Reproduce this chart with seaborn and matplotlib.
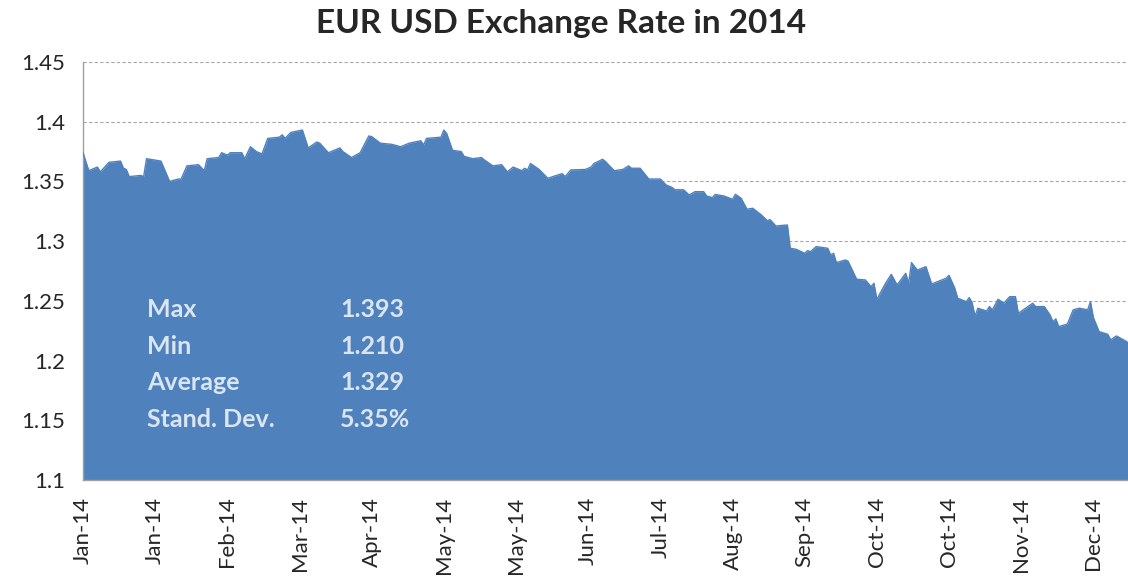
import matplotlib
matplotlib.use("Agg")
import matplotlib.pyplot as plt
import matplotlib.ticker as mticker
import matplotlib.dates as mdates
import seaborn as sns
import pandas as pd

# EUR/USD daily closes (month-day in 2014)
dates = [
    "01-01", "01-03", "01-06", "01-07", "01-10", "01-14", "01-15", "01-16", "01-17", "01-21",
    "01-22", "01-23", "01-28", "01-31", "02-03", "02-04", "02-06", "02-10", "02-12", "02-13",
    "02-17", "02-18", "02-20", "02-21", "02-25", "02-26", "02-28", "03-02", "03-04", "03-06",
    "03-10", "03-11", "03-12", "03-14", "03-18", "03-20", "03-23", "03-24", "03-27", "03-31",
    "04-01", "04-04", "04-07", "04-10", "04-11", "04-14", "04-18", "04-21", "04-24", "04-28",
    "04-29", "04-30", "05-05", "05-06", "05-07", "05-09", "05-12", "05-13", "05-16", "05-19",
    "05-20", "05-23", "05-26", "05-28", "05-30", "06-02", "06-03", "06-04", "06-05", "06-08",
    "06-10", "06-11", "06-14", "06-16", "06-17", "06-19", "06-24", "06-26", "06-27", "06-30",
    "07-01", "07-02", "07-04", "07-07", "07-09", "07-10", "07-13", "07-16", "07-20", "07-22",
    "07-24", "07-25", "07-28", "07-30", "08-01", "08-04", "08-05", "08-07", "08-08", "08-11",
    "08-14", "08-15", "08-17", "08-19", "08-21", "08-24", "08-26", "08-27", "08-29", "09-02",
    "09-03", "09-05", "09-08", "09-09", "09-10", "09-12", "09-16", "09-17", "09-18", "09-19",
    "09-22", "09-23", "09-26", "09-29", "10-01", "10-02", "10-03", "10-06", "10-08", "10-10",
    "10-13", "10-14", "10-15", "10-17", "10-20", "10-22", "10-27", "10-28", "10-30", "10-31",
    "11-03", "11-04", "11-05", "11-06", "11-07", "11-10", "11-11", "11-12", "11-14", "11-16",
    "11-18", "11-20", "11-21", "11-26", "11-27", "11-30", "12-02", "12-03", "12-04", "12-05",
    "12-08", "12-10", "12-12", "12-14", "12-15", "12-16", "12-17", "12-19", "12-22", "12-23",
    "12-25", "12-28", "12-29",
]
rates = [
    1.374, 1.359, 1.362, 1.358, 1.366, 1.367, 1.361, 1.360, 1.354, 1.355,
    1.354, 1.369, 1.367, 1.350, 1.352, 1.352, 1.363, 1.364, 1.359, 1.369,
    1.370, 1.374, 1.372, 1.374, 1.374, 1.369, 1.379, 1.375, 1.373, 1.386,
    1.387, 1.389, 1.386, 1.391, 1.393, 1.378, 1.383, 1.382, 1.374, 1.378,
    1.375, 1.370, 1.374, 1.388, 1.3875, 1.382, 1.381, 1.379, 1.382, 1.384,
    1.3805, 1.386, 1.387, 1.393, 1.390, 1.376, 1.375, 1.371, 1.369, 1.370,
    1.368, 1.363, 1.364, 1.358, 1.362, 1.359, 1.361, 1.3596, 1.365, 1.360,
    1.355, 1.3526, 1.355, 1.3565, 1.354, 1.3596, 1.360, 1.362, 1.365, 1.3685,
    1.3666, 1.364, 1.359, 1.360, 1.363, 1.361, 1.361, 1.352, 1.352, 1.347,
    1.345, 1.343, 1.343, 1.3386, 1.3414, 1.3414, 1.3378, 1.3364, 1.339, 1.3378,
    1.335, 1.3392, 1.3359, 1.3267, 1.3275, 1.3219, 1.3171, 1.318, 1.3127, 1.3135,
    1.294, 1.2932, 1.2898, 1.292, 1.2912, 1.2954, 1.294, 1.2884, 1.2898, 1.282,
    1.2842, 1.2833, 1.2681, 1.2675, 1.2619, 1.2647, 1.2513, 1.2647, 1.2722, 1.2633,
    1.2731, 1.2647, 1.282, 1.2758, 1.2786, 1.2641, 1.2689, 1.2714, 1.2605, 1.2522,
    1.2493, 1.2527, 1.2484, 1.2373, 1.2438, 1.2415, 1.2452, 1.2424, 1.2513, 1.248,
    1.2535, 1.2535, 1.2396, 1.248, 1.2452, 1.2452, 1.2382, 1.2325, 1.2349, 1.2284,
    1.2306, 1.2424, 1.2438, 1.243, 1.2424, 1.2493, 1.236, 1.2242, 1.222, 1.2173,
    1.2206, 1.2166, 1.215,
]

stat_names = ["Max", "Min", "Average", "Stand. Dev."]
stat_values = ["1.393", "1.210", "1.329", "5.35%"]

df = pd.DataFrame({"date": pd.to_datetime(["2014-" + d for d in dates]), "rate": rates})

sns.set_theme(style="white")
plt.rcParams["font.family"] = ["Lato", "DejaVu Sans"]

AREA = "#4f81bd"

fig = plt.figure(figsize=(11.28, 5.79), dpi=100)
ax = fig.add_axes([0.0736, 0.171, 0.9264, 0.722])

ax.fill_between(df["date"], 1.1, df["rate"], color=AREA, lw=0, zorder=2)
sns.lineplot(data=df, x="date", y="rate", color=AREA, lw=1.0, ax=ax, zorder=3)

ax.set_ylim(1.1, 1.45)
ax.set_xlim(df["date"].iloc[0], df["date"].iloc[-1])
ax.yaxis.set_major_locator(mticker.MultipleLocator(0.05))
ax.yaxis.set_major_formatter(mticker.FuncFormatter(lambda v, _: f"{v:g}"))

ticks = pd.date_range("2014-01-01", periods=15, freq="25D")
ax.set_xticks(ticks)
ax.xaxis.set_major_formatter(mdates.DateFormatter("%b-%y"))
ax.tick_params(axis="x", rotation=90, labelsize=16, length=0, pad=12)
ax.tick_params(axis="y", labelsize=16, length=0, pad=13)

ax.set_axisbelow(True)
ax.yaxis.grid(True, color="#a6a6a6", linestyle=(0, (3, 2)), lw=0.8)
ax.xaxis.grid(False)
for side in ["top", "right"]:
    ax.spines[side].set_visible(False)
for side in ["left", "bottom"]:
    ax.spines[side].set_color("#a0a0a0")
    ax.spines[side].set_linewidth(1.0)
ax.set_xlabel("")
ax.set_ylabel("")

fig.suptitle("EUR USD Exchange Rate in 2014", x=0.497, y=0.985, va="top",
             fontsize=24, fontweight="bold")

for i, (name, val) in enumerate(zip(stat_names, stat_values)):
    y = 1.2424 - i * 0.0305
    ax.text(0.0612, y, name, transform=ax.get_yaxis_transform(), color="#dbe5f1",
            fontsize=18, fontweight="bold", va="center", ha="left")
    ax.text(0.246, y, val, transform=ax.get_yaxis_transform(), color="#dbe5f1",
            fontsize=18, fontweight="bold", va="center", ha="left")

fig.savefig("out.png", dpi=100)
